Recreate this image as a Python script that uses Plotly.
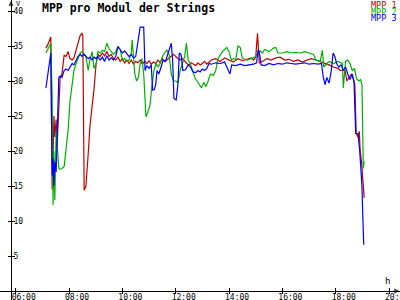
import plotly.graph_objects as go

# ---------------- data ----------------
mpp1_t = ["07:08","07:13","07:19","07:22","07:24","07:26","07:28","07:31","07:33","07:35","07:37","07:40",
          "07:44","07:49","07:53","07:58","08:02","08:07","08:11","08:16","08:20","08:25","08:29","08:31",
          "08:34","08:38","08:43","08:47","08:52","08:56","09:01","09:05","09:10","09:15","09:20","09:25",
          "09:30","09:35","09:40","09:45","09:50","09:55","10:00","10:05","10:10","10:15","10:20","10:25",
          "10:30","10:35","10:40","10:45","10:50","10:55","11:00","11:05","11:10","11:15","11:20","11:25",
          "11:30","11:35","11:40","11:45","11:50","11:55","12:00","12:05","12:10","12:15","12:20","12:25",
          "12:30","12:35","12:40","12:45","12:50","12:55","13:00","13:05","13:10","13:15","13:20","13:30",
          "13:40","13:50","14:00","14:10","14:20","14:30","14:40","14:50","14:55","15:00","15:04","15:06",
          "15:08","15:15","15:25","15:35","15:45","15:55","16:05","16:15","16:25","16:35","16:45","16:55",
          "17:05","17:15","17:25","17:35","17:45","17:55","18:05","18:10","18:15","18:21","18:25","18:30",
          "18:35","18:40","18:43","18:46","18:50","18:53","18:55","18:58","19:01","19:04"]
mpp1_v = [34.7,35.3,36.3,14.5,19.0,25.0,22.0,24.5,20.5,24.0,27.0,30.5,
          31.0,33.7,33.5,34.2,33.2,33.0,33.3,34.5,35.2,36.5,36.8,36.5,
          14.4,15.0,19.5,23.5,26.5,28.7,32.5,33.8,33.5,34.0,33.6,34.2,
          33.5,33.8,33.2,33.0,33.4,32.8,33.2,32.6,33.0,32.5,33.0,32.4,
          32.8,32.6,33.0,32.4,32.8,32.5,32.9,32.4,32.7,32.5,33.0,32.6,
          33.2,32.8,33.0,33.3,33.6,33.8,33.5,33.2,33.0,33.2,32.8,32.5,
          32.3,32.6,32.4,32.2,32.6,32.3,32.5,32.8,32.4,32.7,33.0,33.2,
          32.8,33.3,33.0,32.7,33.2,32.9,33.1,33.3,33.0,33.4,36.8,33.5,
          32.6,32.8,33.2,33.0,33.3,33.4,33.0,33.1,32.8,33.0,32.7,33.0,
          33.2,33.0,32.8,32.5,32.3,32.0,31.8,31.5,31.5,31.5,30.0,30.5,
          31.0,30.2,29.5,22.5,22.0,22.8,20.0,18.5,16.0,13.3]

mpp2_t = ["07:08","07:13","07:19","07:22","07:24","07:26","07:28","07:31","07:33","07:35","07:37","07:40",
          "07:44","07:49","07:53","07:58","08:02","08:07","08:11","08:16","08:20","08:25","08:29","08:34",
          "08:38","08:43","08:47","08:52","08:56","09:01","09:05","09:10","09:15","09:20","09:25","09:30",
          "09:35","09:40","09:45","09:50","09:55","10:00","10:05","10:10","10:15","10:20","10:22","10:25",
          "10:28","10:32","10:36","10:40","10:44","10:48","10:53","10:57","11:02","11:06","11:11","11:16",
          "11:20","11:25","11:30","11:35","11:40","11:45","11:50","11:55","12:00","12:05","12:10","12:15",
          "12:20","12:24","12:28","12:33","12:38","12:43","12:48","12:53","12:58","13:03","13:08","13:13",
          "13:18","13:25","13:30","13:35","13:40","13:45","13:50","13:55","14:00","14:05","14:10","14:15",
          "14:20","14:25","14:30","14:40","14:50","15:00","15:05","15:10","15:15","15:20","15:30","15:40",
          "15:45","15:50","16:00","16:10","16:20","16:30","16:40","16:50","17:00","17:10","17:15","17:25",
          "17:30","17:33","17:40","17:45","17:55","18:05","18:15","18:17","18:22","18:27","18:32","18:37",
          "18:42","18:47","18:52","18:56","18:59","19:02","19:04"]
mpp2_v = [34.0,34.7,35.4,28.0,12.3,20.0,13.0,23.0,21.5,19.5,17.5,17.4,
          17.5,17.8,20.0,23.0,27.0,29.5,31.5,32.5,33.2,34.0,34.2,33.8,
          33.5,31.5,33.0,34.2,31.8,32.5,34.2,34.0,34.4,34.2,35.4,34.6,
          34.2,33.8,34.2,34.9,34.5,33.0,33.2,32.8,33.0,34.0,35.9,33.5,
          31.0,30.0,30.5,32.5,33.2,31.0,24.9,25.5,26.5,29.0,31.5,32.5,
          32.0,32.5,33.5,34.0,34.4,33.8,31.0,30.0,30.0,29.8,31.5,32.5,
          33.5,35.4,33.0,32.5,31.5,30.5,30.0,29.5,29.0,29.8,29.2,30.0,
          31.0,30.8,31.5,33.2,33.8,34.2,34.5,34.8,34.2,33.0,33.2,33.0,
          35.0,34.8,33.2,33.0,33.2,33.5,34.0,34.3,34.0,34.5,34.2,34.7,
          34.8,34.0,34.0,34.2,34.0,34.1,34.0,34.2,34.0,33.8,33.0,32.8,
          34.4,32.0,32.5,32.8,32.5,32.8,32.5,29.0,32.8,33.0,32.5,31.5,
          31.8,30.3,30.0,30.2,29.5,17.5,18.5]

mpp3_t = ["07:08","07:13","07:17","07:19","07:22","07:24","07:26","07:28","07:31","07:33","07:35","07:37",
          "07:40","07:44","07:49","07:53","07:58","08:02","08:07","08:11","08:16","08:20","08:25","08:29",
          "08:34","08:38","08:43","08:47","08:52","08:56","09:01","09:05","09:10","09:15","09:20","09:25",
          "09:30","09:35","09:40","09:45","09:50","09:55","10:00","10:05","10:10","10:15","10:20","10:25",
          "10:30","10:36","10:40","10:48","10:51","10:55","11:00","11:05","11:08","11:12","11:15","11:18",
          "11:22","11:27","11:32","11:37","11:42","11:46","11:50","11:53","11:56","12:01","12:05","12:08",
          "12:12","12:16","12:22","12:28","12:33","12:39","12:45","12:50","12:55","13:00","13:05","13:10",
          "13:15","13:20","13:30","13:40","13:50","14:02","14:06","14:15","14:25","14:35","14:45","14:55",
          "15:02","15:05","15:08","15:12","15:20","15:30","15:40","15:50","16:00","16:10","16:20","16:30",
          "16:40","16:50","17:00","17:10","17:20","17:28","17:32","17:36","17:40","17:45","17:50","17:54",
          "17:58","18:02","18:07","18:12","18:17","18:22","18:27","18:32","18:37","18:41","18:45","18:50",
          "18:54","18:57","18:59","19:01","19:03"]
mpp3_v = [29.0,31.0,33.0,34.0,16.5,19.0,15.0,18.5,17.0,21.0,26.0,30.5,
          30.7,30.5,31.5,31.7,31.5,32.0,32.5,32.3,33.0,33.5,33.8,33.5,
          33.8,33.5,33.2,33.4,33.0,33.4,33.2,33.5,33.0,33.4,32.8,33.6,
          33.0,33.3,33.0,33.5,34.9,34.5,34.0,34.3,33.8,33.5,33.8,33.3,
          33.5,36.5,37.7,37.7,31.5,32.2,31.8,32.3,28.7,28.8,29.5,31.5,
          31.0,32.0,33.0,32.8,33.8,34.4,35.4,33.0,27.5,27.3,29.5,34.0,
          33.8,31.5,31.6,32.3,32.0,31.3,31.2,31.5,31.3,31.7,31.5,31.8,
          32.5,32.4,32.6,32.5,32.7,31.0,32.3,32.2,32.4,32.2,32.3,32.4,
          32.6,34.4,34.2,32.3,32.2,32.5,32.3,32.5,32.4,32.6,32.5,32.4,
          32.5,32.6,32.4,32.5,32.4,32.5,30.5,29.5,30.5,29.7,31.5,34.0,
          33.5,32.5,32.0,32.3,31.5,32.0,31.0,30.2,31.0,30.0,22.5,22.5,
          20.0,17.7,15.0,10.5,6.6]

series_names = ["MPP 1", "MPP 2", "MPP 3"]
series_colors = ["#c00000", "#00b000", "#0000ff"]
title_text = "MPP pro Modul der Strings"
x_tickvals = [6, 8, 10, 12, 14, 16, 18, 20]
x_ticktext = ["06:00", "08:00", "10:00", "12:00", "14:00", "16:00", "18:00", "20:00"]
y_tickvals = [5, 10, 15, 20, 25, 30, 35, 40]
y_ticktext = ["5", "10", "15", "20", "25", "30", "35", "40"]


def to_hours(ts):
    out = []
    for s in ts:
        hh, mm = s.split(":")
        out.append(int(hh) + int(mm) / 60.0)
    return out


X_RANGE = [5.4113, 20.4098]
Y_RANGE = [-1.2857, 41.571]
X_POS = 9 / 300
Y_POS = 11 / 400
MONO = "DejaVu Sans Mono"

fig = go.Figure()
for t, v, name, col in zip([mpp1_t, mpp2_t, mpp3_t], [mpp1_v, mpp2_v, mpp3_v],
                           series_names, series_colors):
    fig.add_trace(go.Scatter(x=to_hours(t), y=v, mode="lines", name=name,
                             line=dict(color=col, width=1.2), showlegend=False,
                             hoverinfo="skip"))

# dummy traces for the overlay axes (tick halves)
fig.add_trace(go.Scatter(x=[None], y=[None], xaxis="x2", yaxis="y2",
                         showlegend=False, hoverinfo="skip"))
fig.add_trace(go.Scatter(x=[None], y=[None], xaxis="x3", yaxis="y2",
                         showlegend=False, hoverinfo="skip"))

axis_common = dict(showgrid=False, zeroline=False, fixedrange=True, automargin=False)
fig.update_layout(
    width=400, height=300, autosize=False,
    margin=dict(l=0, r=0, t=0, b=0, pad=0, autoexpand=False),
    paper_bgcolor="white", plot_bgcolor="white",
    xaxis=dict(range=X_RANGE, anchor="free", position=X_POS,
               showline=True, linecolor="black", linewidth=1,
               ticks="", ticklen=0,
               tickvals=x_tickvals, ticktext=x_ticktext, ticklabelshift=8,
               ticklabelstandoff=-2, ticklabeloverflow="allow",
               tickfont=dict(family=MONO, size=8, color="black"), **axis_common),
    yaxis=dict(range=Y_RANGE, anchor="free", position=Y_POS,
               showline=True, linecolor="black", linewidth=1,
               ticks="outside", ticklen=3, tickcolor="black", tickwidth=1,
               tickvals=y_tickvals, ticktext=y_ticktext, ticklabelposition="inside",
               ticklabeloverflow="allow",
               tickfont=dict(family=MONO, size=8, color="black"), **axis_common),
    xaxis2=dict(range=X_RANGE, overlaying="x", anchor="free", position=X_POS,
                showline=False, ticks="inside", ticklen=3, tickcolor="black",
                tickwidth=1, tickvals=x_tickvals, showticklabels=False, **axis_common),
    xaxis3=dict(range=X_RANGE, overlaying="x", anchor="free", position=X_POS,
                showline=False, ticks="outside", ticklen=2, tickcolor="black",
                tickwidth=1, tickvals=x_tickvals, showticklabels=False, **axis_common),
    yaxis2=dict(range=Y_RANGE, overlaying="y", anchor="free", position=Y_POS,
                showline=False, ticks="inside", ticklen=3, tickcolor="black",
                tickwidth=1, tickvals=y_tickvals, showticklabels=False, **axis_common),
)

ann = []
# title
ann.append(dict(text="<b>" + title_text + "</b>", xref="paper", yref="paper",
                x=40 / 400, y=1 - 7.5 / 300, xanchor="left", yanchor="middle",
                showarrow=False, font=dict(family=MONO, size=11.5, color="black")))
# legend texts
for i, (name, col) in enumerate(zip(series_names, series_colors)):
    ann.append(dict(text=name, xref="paper", yref="paper",
                    x=398 / 400, y=1 - (4.5 + 7 * i) / 300, xanchor="right",
                    yanchor="middle", showarrow=False, borderpad=0,
                    font=dict(family=MONO, size=8.5, color=col)))
# unit labels
ann.append(dict(text="V", xref="paper", yref="paper", x=15 / 400, y=1 - 4 / 300,
                xanchor="left", yanchor="middle", showarrow=False, borderpad=0,
                font=dict(family=MONO, size=7, color="black")))
ann.append(dict(text="h", xref="paper", yref="paper", x=387 / 400, y=1 - 280.5 / 300,
                xanchor="center", yanchor="middle", showarrow=False,
                font=dict(family=MONO, size=9, color="black")))
# axis arrows
ann.append(dict(text="", xref="paper", yref="paper", x=Y_POS, y=1.0,
                ax=0, ay=8, showarrow=True, arrowhead=5, arrowsize=0.8,
                arrowwidth=1, arrowcolor="black"))
ann.append(dict(text="", xref="paper", yref="paper", x=1.0, y=X_POS,
                ax=-8, ay=0, showarrow=True, arrowhead=5, arrowsize=0.8,
                arrowwidth=1, arrowcolor="black"))
fig.update_layout(annotations=ann)

fig.write_html("out.html")
